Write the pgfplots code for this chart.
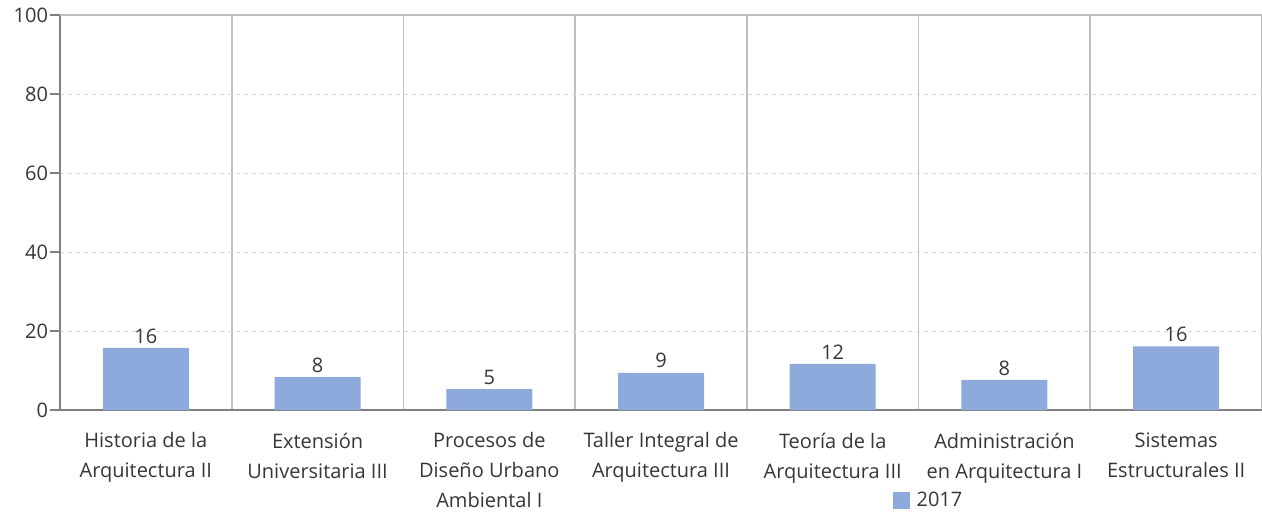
\documentclass[border=0pt]{standalone}
\usepackage{fontspec}
\setmainfont{Open Sans}
\usepackage{pgfplots}
\pgfplotsset{compat=1.18}
\definecolor{barblue}{HTML}{8EA9DB}
\definecolor{txt}{HTML}{363636}
\definecolor{sepgray}{HTML}{BFBFBF}
\definecolor{axgray}{HTML}{808080}
\definecolor{gridgray}{HTML}{D9D9D9}

\begin{document}
\begin{tikzpicture}
\begin{axis}[
    scale only axis, width=901.5pt, height=296.25pt,
    xmin=0, xmax=7, ymin=0, ymax=100,
    /pgf/number format/assume math mode=true,
    axis x line*=bottom, axis y line*=left,
    axis line style={draw=axgray, line width=1.3pt},
    ytick={0,20,40,60,80},
    extra y ticks={100},
    extra tick style={major grid style={solid, draw=sepgray, line width=1.3pt}},
    ymajorgrids,
    major grid style={dashed, draw=gridgray, line width=0.6pt},
    xtick={0.5,1.5,2.5,3.5,4.5,5.5,6.5},
    xticklabels={{Historia de la\\Arquitectura II},{Extensión\\Universitaria III},{Procesos de\\Diseño Urbano\\Ambiental I},{Taller Integral de\\Arquitectura III},{Teoría de la\\Arquitectura III},{Administración\\en Arquitectura I},{Sistemas\\Estructurales II}},
    minor xtick={1,2,3,4,5,6,7},
    xminorgrids,
    minor grid style={solid, draw=sepgray, line width=1.3pt},
    x tick style={draw=none},
    minor x tick style={draw=none},
    y tick style={draw=axgray, line width=1pt},
    tick align=outside, major tick length=7.5pt,
    xticklabel style={align=center, font=\fontsize{15}{22.5}\selectfont, text=txt, yshift=-6pt},
    yticklabel style={font=\fontsize{15}{16}\selectfont, text=txt, xshift=2pt},
    legend style={at={(0.693,-0.258)}, anchor=south west, draw=none, fill=none,
        inner sep=0pt, font=\fontsize{15}{16}\selectfont, text=txt,
        legend cell align=left},
    legend image code/.code={\fill[barblue] (0pt,-6.4pt) rectangle (12.8pt,6.4pt);
        \path (0pt,0pt) -- (15.5pt,0pt);},
]
\addplot[ybar, fill=barblue, draw=none, bar width=64.5pt,
    nodes near coords={\pgfmathprintnumber[fixed,precision=0]{\pgfplotspointmeta}},
    nodes near coords style={font=\fontsize{15}{16}\selectfont, text=txt}]
coordinates {
    (0.5,15.7)
    (1.5,8.35)
    (2.5,5.3)
    (3.5,9.4)
    (4.5,11.7)
    (5.5,7.6)
    (6.5,16.1)
};
\addlegendentry{2017}
\end{axis}
\pgfresetboundingbox
\path[use as bounding box] ([shift={(-45pt,-77.25pt)}]current axis.south west) rectangle ([shift={(0pt,11.25pt)}]current axis.north east);
\end{tikzpicture}
\end{document}
